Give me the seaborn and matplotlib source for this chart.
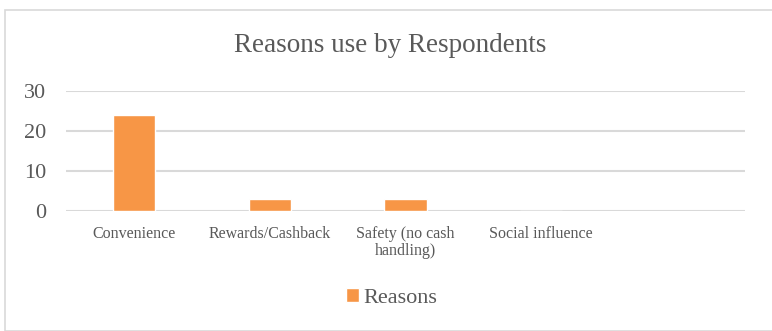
import pandas as pd
import seaborn as sns
import matplotlib.pyplot as plt
from matplotlib.patches import Rectangle

# Reasons use by Respondents
reasons = ["Convenience", "Rewards/Cashback", "Safety (no cash\nhandling)", "Social influence"]
counts = [24, 3, 3, 0]
series_name = "Reasons"

sns.set_theme(style="white")
plt.rcParams['font.family'] = ['Liberation Serif', 'DejaVu Serif']

df = pd.DataFrame({"reason": reasons, "count": counts, "series": series_name})

fig = plt.figure(figsize=(7.72, 3.31), dpi=100)
ax = fig.add_axes([0.0855, 0.3625, 0.8795, 0.3625])

sns.barplot(data=df, x="reason", y="count", hue="series", palette=["#F79646"],
            saturation=1, width=0.31, ax=ax, legend=True)

# the excel chart leaves room for an empty fifth slot
ax.set_xlim(-0.5, 4.5)
ax.set_ylim(0, 30)
ax.set_yticks([0, 10, 20, 30])
ax.yaxis.grid(True, color="#d9d9d9", linewidth=1.5)
ax.set_axisbelow(True)
for s in ax.spines.values():
    s.set_visible(False)

ax.set_xlabel("")
ax.set_ylabel("")
ax.tick_params(axis="y", labelsize=16, labelcolor="#595959", pad=14, length=0)
ax.tick_params(axis="x", labelsize=11.5, labelcolor="#595959", pad=11, length=0)
for lbl in ax.get_xticklabels():
    lbl.set_linespacing(1.1)

fig.text(0.505, 0.862, "Reasons use by Respondents", ha="center", va="center",
         fontsize=19.5, color="#595959")

ax.legend(loc="center", frameon=False, fontsize=16, handlelength=0.6, handleheight=0.6,
          handletextpad=0.2, labelcolor="#595959")
ax.get_legend().set_bbox_to_anchor((0.507, 0.1), transform=fig.transFigure)

# chart border
fig.patches.append(Rectangle((5 / 772, 0), 1.2, 1 - 10 / 331, transform=fig.transFigure,
                             fill=False, edgecolor="#d9d9d9", linewidth=1.2))

plt.savefig("out.png", dpi=100)
